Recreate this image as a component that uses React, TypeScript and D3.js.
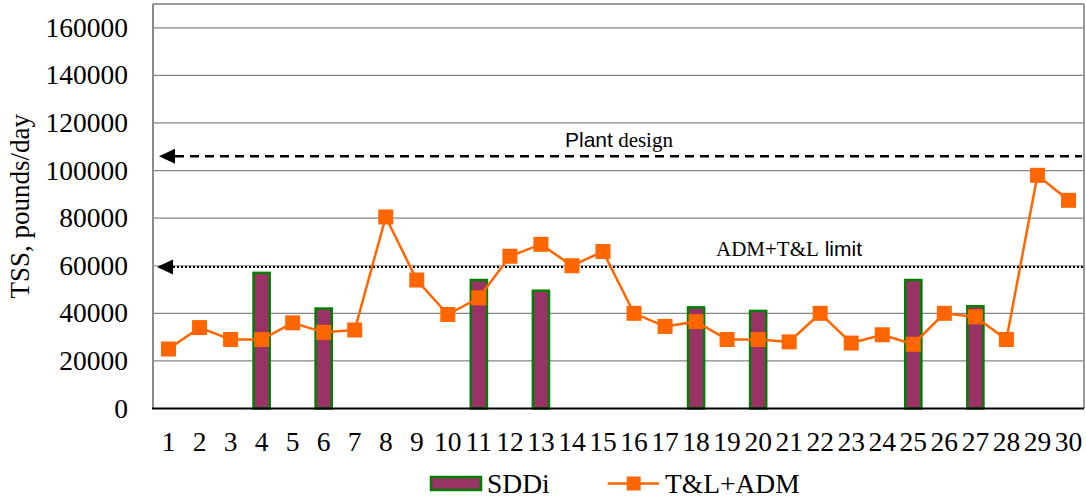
import React from "react";
import * as d3 from "d3";

// Days of the monitoring period
const days: string[] = Array.from({ length: 30 }, (_, i) => String(i + 1));

// Daily TSS load, pounds/day
const tlAdm: number[] = [
  25000, 34000, 29000, 29000, 36000, 32000, 33000, 80500, 54000, 39500,
  46500, 64000, 69000, 60000, 66000, 40000, 34500, 36500, 29000, 29000,
  28000, 40000, 27500, 31000, 27000, 40000, 38500, 29000, 98000, 87500,
];

const sddi: (number | null)[] = [
  null, null, null, 57000, null, 42000, null, null, null, null,
  54000, null, 49500, null, null, null, null, 42500, null, 41000,
  null, null, null, null, 54000, null, 43000, null, null, null,
];

const yTicks: number[] = [0, 20000, 40000, 60000, 80000, 100000, 120000, 140000, 160000];

const plantDesign = 106000;
const admLimit = 59500;

const W = 1086;
const H = 501;
const M = { left: 153, right: 1084, top: 4, bottom: 408.5 };

const serif = "'Liberation Serif', 'Times New Roman', serif";
const sans = "'Liberation Sans', Arial, sans-serif";
const ORANGE = "#FF6600";
const PLUM = "#993366";
const GREEN = "#008000";

export default function App() {
  const x = d3.scaleBand<string>().domain(days).range([M.left, M.right]).padding(0);
  const y = d3.scaleLinear().domain([0, 170000]).range([M.bottom, M.top]);
  const cx = (d: string) => (x(d) as number) + x.bandwidth() / 2;
  const barW = x.step() * 0.52;
  const mk = 15;

  const line = d3
    .line<number>()
    .x((_, i) => cx(days[i]))
    .y((v) => y(v));

  const arrow = (tipX: number, yy: number) =>
    `M${tipX},${yy} L${tipX + 16},${yy - 7.5} L${tipX + 16},${yy + 7.5} Z`;

  return (
    <svg
      width={W}
      height={H}
      style={{ position: "absolute", left: 0, top: 0, background: "#fff" }}
    >
      {/* horizontal grid */}
      {yTicks
        .filter((t) => t > 0)
        .map((t) => (
          <line
            key={t}
            x1={M.left}
            x2={M.right}
            y1={y(t)}
            y2={y(t)}
            stroke="#858585"
            strokeWidth={1.2}
          />
        ))}
      {/* plot frame */}
      <line x1={M.left} x2={M.right} y1={M.top} y2={M.top} stroke="#999" strokeWidth={2} />
      <line x1={M.right} x2={M.right} y1={M.top} y2={M.bottom} stroke="#999" strokeWidth={2} />
      <line x1={M.left} x2={M.left} y1={M.top} y2={M.bottom} stroke="#8a8a8a" strokeWidth={2} />

      {/* y tick labels */}
      {yTicks.map((t) => (
        <text
          key={t}
          x={128}
          y={y(t) + 9}
          textAnchor="end"
          fontFamily={serif}
          fontSize={27.5}
          fill="#000"
        >
          {t}
        </text>
      ))}

      {/* y axis title */}
      <text
        transform={`translate(29, ${(M.top + M.bottom) / 2}) rotate(-90)`}
        textAnchor="middle"
        fontFamily={serif}
        fontSize={27}
        fill="#000"
      >
        TSS, pounds/day
      </text>

      {/* SDDi bars */}
      {sddi.map((v, i) =>
        v == null ? null : (
          <rect
            key={i}
            x={cx(days[i]) - barW / 2}
            y={y(v)}
            width={barW}
            height={M.bottom - y(v)}
            fill={PLUM}
            stroke={GREEN}
            strokeWidth={2.5}
          />
        )
      )}

      {/* bottom axis */}
      <line x1={M.left - 1} x2={M.right} y1={M.bottom} y2={M.bottom} stroke="#000" strokeWidth={2} />

      {/* x tick labels */}
      {days.map((d) => (
        <text
          key={d}
          x={cx(d)}
          y={451}
          textAnchor="middle"
          fontFamily={serif}
          fontSize={27.5}
          fill="#000"
        >
          {d}
        </text>
      ))}

      {/* Plant design reference */}
      <path d={arrow(159, y(plantDesign))} fill="#000" />
      <line
        x1={175}
        x2={1082}
        y1={y(plantDesign)}
        y2={y(plantDesign)}
        stroke="#000"
        strokeWidth={2.6}
        strokeDasharray="9 6"
      />
      <text x={565} y={146.7} fill="#000" fontSize={21}>
        <tspan fontFamily={sans}>Plant</tspan>
        <tspan fontFamily={serif}> design</tspan>
      </text>

      {/* ADM+T&L limit reference */}
      <path d={arrow(157, y(admLimit))} fill="#000" />
      <line
        x1={173}
        x2={1084}
        y1={y(admLimit)}
        y2={y(admLimit)}
        stroke="#000"
        strokeWidth={2}
        strokeDasharray="2 2"
      />
      <text x={716} y={255.7} fill="#000" fontSize={21}>
        <tspan fontFamily={serif}>ADM+T&amp;L</tspan>
        <tspan fontFamily={sans}> limit</tspan>
      </text>

      {/* T&L+ADM series */}
      <path d={line(tlAdm) ?? ""} fill="none" stroke={ORANGE} strokeWidth={2.5} />
      {tlAdm.map((v, i) => (
        <rect
          key={i}
          x={cx(days[i]) - mk / 2}
          y={y(v) - mk / 2}
          width={mk}
          height={mk}
          fill={ORANGE}
        />
      ))}

      {/* legend */}
      <rect x={431} y={477} width={50} height={13} fill={PLUM} stroke={GREEN} strokeWidth={2.5} />
      <text x={487} y={493} fontFamily={serif} fontSize={27.5} fill="#000">
        SDDi
      </text>
      <line x1={607.7} x2={659} y1={483.5} y2={483.5} stroke={ORANGE} strokeWidth={2.5} />
      <rect x={633.7 - 7} y={483.5 - 7} width={14} height={14} fill={ORANGE} />
      <text x={665} y={493} fontFamily={serif} fontSize={27.5} fill="#000">
        T&amp;L+ADM
      </text>
    </svg>
  );
}
